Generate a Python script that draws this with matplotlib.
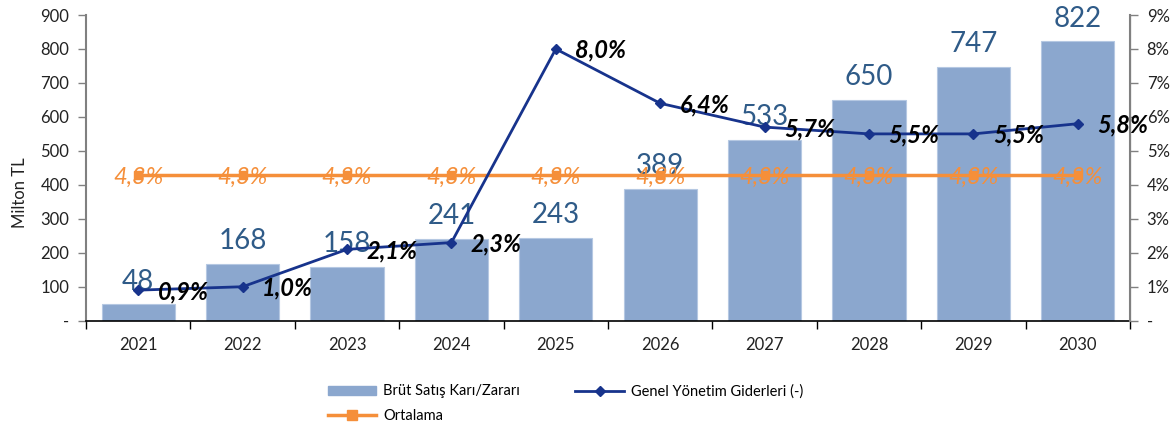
import matplotlib
matplotlib.use("Agg")
import matplotlib.pyplot as plt
import numpy as np
from matplotlib.lines import Line2D
from matplotlib.patches import Patch

plt.rcParams['font.family'] = ['Lato', 'DejaVu Sans']

years = ['2021', '2022', '2023', '2024', '2025', '2026', '2027', '2028', '2029', '2030']
brut_kar = [48, 168, 158, 241, 243, 389, 533, 650, 747, 822]
genel_gider_pct = [0.9, 1.0, 2.1, 2.3, 8.0, 6.4, 5.7, 5.5, 5.5, 5.8]
ortalama_pct = [4.3] * 10
left_ticks = [0, 100, 200, 300, 400, 500, 600, 700, 800, 900]
right_ticks = [0, 1, 2, 3, 4, 5, 6, 7, 8, 9]

bar_color = '#8BA7CE'
line_color = '#17338C'
orange = '#F58F3A'
bar_lbl_color = '#2F5B88'
tick_color = '#222222'

fig = plt.figure(figsize=(11.75, 4.25), dpi=100)
ax = fig.add_axes([0.0732, 0.2454, 0.8885, 0.7193])
ax2 = ax.twinx()

x = np.arange(len(years))
bars = ax.bar(x, brut_kar, width=0.7, color=bar_color, edgecolor='#B5C8E2', linewidth=0.8, zorder=1)
for xi, v in zip(x, brut_kar):
    ax.annotate(str(v), (xi, v), xytext=(0, 7), textcoords='offset points',
                ha='center', va='bottom', fontsize=20, color=bar_lbl_color)

ax.set_xlim(-0.5, len(years) - 0.5)
ax.set_ylim(0, 900)
ax.set_yticks(left_ticks)
ax.set_yticklabels(['-' if t == 0 else str(t) for t in left_ticks], fontsize=12, color=tick_color)
ax.set_xticks(x)
ax.set_xticklabels(years, fontsize=12, color=tick_color)
ax.tick_params(axis='x', length=0, pad=12)
ax.set_xticks(np.arange(-0.5, len(years), 1.0), minor=True)
ax.tick_params(axis='x', which='minor', length=6, width=1, color='black', direction='out')
ax.tick_params(axis='y', length=6, width=1, color='#808080', direction='out', pad=6)
ax.set_ylabel('Milton TL', fontsize=12, color=tick_color)
ax.yaxis.set_label_coords(-0.0555, 0.42)
for s in ['top']:
    ax.spines[s].set_visible(False)
    ax2.spines[s].set_visible(False)
ax.spines['left'].set_color('#808080')
ax.spines['left'].set_linewidth(1.5)
ax.spines['bottom'].set_color('black')
ax.spines['bottom'].set_linewidth(1.2)
ax2.spines['right'].set_color('#808080')
ax2.spines['right'].set_linewidth(1.5)
ax2.spines['left'].set_visible(False)
ax2.spines['bottom'].set_visible(False)

ax2.set_ylim(0, 9)
ax2.set_yticks(right_ticks)
ax2.set_yticklabels(['-' if t == 0 else f'{t}%' for t in right_ticks], fontsize=12, color=tick_color)
ax2.tick_params(axis='y', length=6, width=1, color='#808080', direction='out', pad=6)

ax2.plot(x, ortalama_pct, color=orange, linewidth=2.5, marker='s', markersize=6, zorder=3)
for xi, v in zip(x, ortalama_pct):
    ax2.annotate(f'{v:.1f}%'.replace('.', ','), (xi, v), xytext=(0, -2), textcoords='offset points',
                 ha='center', va='center', fontsize=17, fontstyle='italic', color=orange, zorder=4)

ax2.plot(x, genel_gider_pct, color=line_color, linewidth=2, marker='D', markersize=5, zorder=5)
for xi, v in zip(x, genel_gider_pct):
    ax2.annotate(f'{v:.1f}%'.replace('.', ','), (xi, v), xytext=(14, -1), textcoords='offset points',
                 ha='left', va='center', fontsize=17, fontstyle='italic', fontweight='bold',
                 color='black', zorder=6)

handles = [
    Patch(facecolor=bar_color, edgecolor=bar_color, label='Brüt Satış Karı/Zararı'),
    Line2D([0], [0], color=orange, linewidth=2.5, marker='s', markersize=7, label='Ortalama'),
    Line2D([0], [0], color=line_color, linewidth=2, marker='D', markersize=5, label='Genel Yönetim Giderleri (-)'),
]
fig.legend(handles=handles, loc='upper left', bbox_to_anchor=(0.274, 0.11), ncol=2, frameon=False,
           fontsize=10.5, handlelength=3.3, handleheight=0.6, columnspacing=3.8, labelspacing=0.75,
           borderaxespad=0, handletextpad=0.5)

fig.savefig('out.png', dpi=100)
